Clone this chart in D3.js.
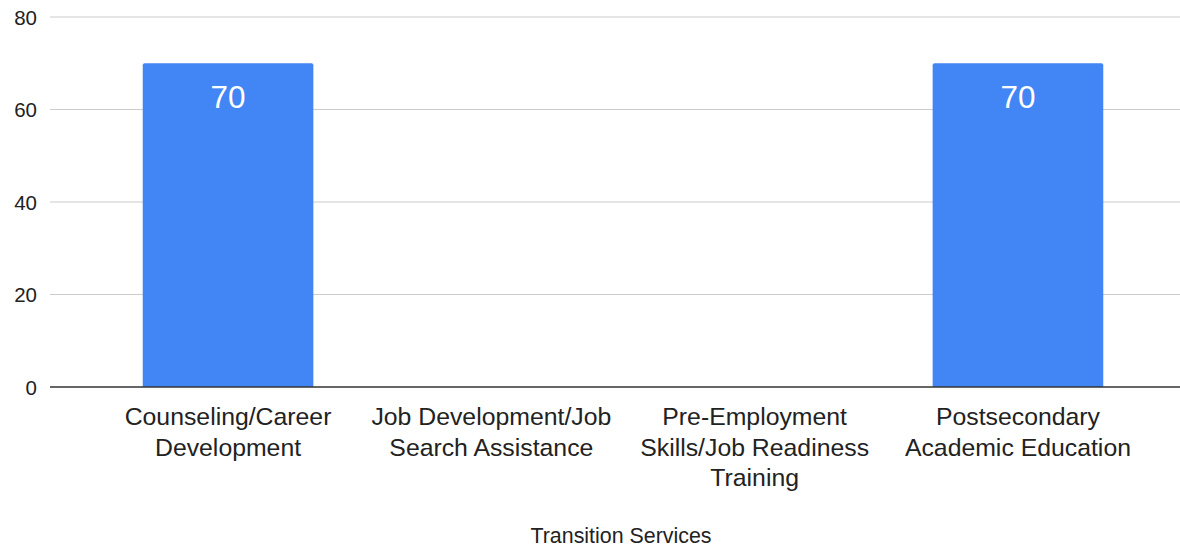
<!DOCTYPE html>
<html><head><meta charset="utf-8">
<script src="https://cdn.jsdelivr.net/npm/d3@7"></script>
<style>body{margin:0;background:#fff}svg text{font-family:Arial,"Liberation Sans",sans-serif}</style>
</head><body>
<svg id="c" width="1180" height="548"></svg>
<script>
const categories = [["Counseling/Career","Development"],["Job Development/Job","Search Assistance"],["Pre-Employment","Skills/Job Readiness","Training"],["Postsecondary","Academic Education"]];
const values = [70, 0, 0, 70];
const yTicks = [0, 20, 40, 60, 80];
const xTitle = "Transition Services";

const svg = d3.select("#c");
const keys = categories.map((c,i)=>i);
const x = d3.scaleBand().domain(keys).range([96.4,1149.6]).paddingInner(0.352).paddingOuter(0.176);
const y = d3.scaleLinear().domain([0,80]).range([387,17]);

// gridlines
svg.append("g").selectAll("line").data(yTicks.filter(t=>t>0)).join("line")
  .attr("x1",50).attr("x2",1180).attr("y1",d=>y(d)).attr("y2",d=>y(d))
  .attr("stroke","#cccccc").attr("stroke-width",1.2);

// y axis labels
const yAxis = svg.append("g").attr("transform","translate(37,0)")
  .call(d3.axisLeft(y).tickValues(yTicks).tickSize(0).tickPadding(0));
yAxis.select(".domain").remove();
yAxis.selectAll("text").attr("font-size",20.5).attr("fill","#222").attr("dy","0.36em");

// bars
svg.append("g").selectAll("path").data(values.map((v,i)=>({v,i})).filter(d=>d.v>0)).join("path")
  .attr("fill","#4285f4")
  .attr("d",d=>{
    const x0=x(d.i), w=x.bandwidth(), y0=y(d.v), h=y(0)-y0, r=2;
    return `M${x0},${y0+h}V${y0+r}Q${x0},${y0} ${x0+r},${y0}H${x0+w-r}Q${x0+w},${y0} ${x0+w},${y0+r}V${y0+h}Z`;
  });

// data labels
svg.append("g").selectAll("text").data(values.map((v,i)=>({v,i})).filter(d=>d.v>0)).join("text")
  .attr("x",d=>x(d.i)+x.bandwidth()/2).attr("y",d=>y(d.v)+45)
  .attr("text-anchor","middle").attr("fill","#fff").attr("font-size",31.5).text(d=>d.v);

// baseline
svg.append("line").attr("x1",50).attr("x2",1180).attr("y1",y(0)).attr("y2",y(0))
  .attr("stroke","#333").attr("stroke-width",1.6);

// x axis labels
const xl = svg.append("g");
categories.forEach((lines,i)=>{
  const t = xl.append("text").attr("text-anchor","middle").attr("font-size",24.8).attr("fill","#222");
  lines.forEach((l,j)=>t.append("tspan").attr("x",x(i)+x.bandwidth()/2).attr("y",425+j*30.5).text(l));
});

// x title
svg.append("text").attr("x",621).attr("y",543).attr("text-anchor","middle").attr("font-size",21.4).attr("fill","#222").text(xTitle);
</script>
</body></html>
